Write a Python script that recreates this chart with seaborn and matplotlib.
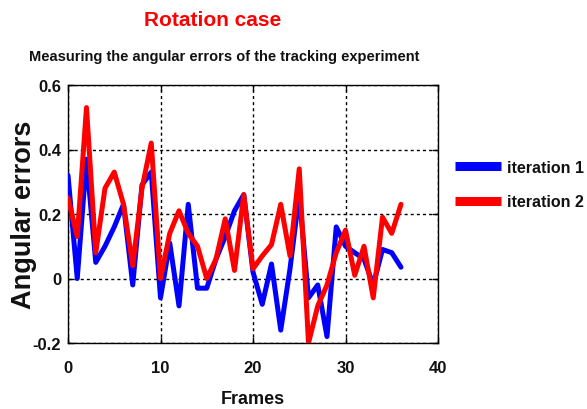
import matplotlib
matplotlib.use("Agg")
import matplotlib.pyplot as plt
from matplotlib import font_manager
from matplotlib.lines import Line2D
import seaborn as sns
import pandas as pd

# Angular error per frame for two tracking iterations
frames = list(range(37))
iteration_1 = [0.32, 0.00, 0.37, 0.05, 0.10, 0.16, 0.23, -0.02, 0.29, 0.33,
               -0.06, 0.11, -0.085, 0.23, -0.03, -0.03, 0.06, 0.13, 0.21, 0.26,
               0.02, -0.08, 0.045, -0.16, 0.03, 0.26, -0.06, -0.02, -0.18, 0.16,
               0.10, 0.08, 0.06, -0.02, 0.09, 0.08, 0.035]
iteration_2 = [0.25, 0.13, 0.53, 0.08, 0.28, 0.33, 0.23, 0.04, 0.28, 0.42,
               0.00, 0.14, 0.21, 0.14, 0.10, 0.00, 0.06, 0.185, 0.025, 0.26,
               0.03, 0.07, 0.105, 0.23, 0.07, 0.34, -0.20, -0.085, -0.02, 0.08,
               0.15, 0.01, 0.10, -0.06, 0.19, 0.14, 0.23]
series_names = ["iteration 1", "iteration 2"]
series_colors = ["#0000ff", "#ff0000"]
x_ticks = [0, 10, 20, 30, 40]
y_ticks = [-0.2, 0, 0.2, 0.4, 0.6]
y_tick_labels = ["-0.2", "0", "0.2", "0.4", "0.6"]

df = pd.DataFrame({
    "Frames": frames * 2,
    "error": iteration_1 + iteration_2,
    "series": [series_names[0]] * len(frames) + [series_names[1]] * len(frames),
})

sns.set_theme(style="white")
plt.rcParams["font.family"] = ["Liberation Sans", "DejaVu Sans"]

available = {f.name for f in font_manager.fontManager.ttflist}
narrow_family = ["Liberation Sans Narrow", "Liberation Sans"] if "Liberation Sans Narrow" in available else ["Liberation Sans"]

fig = plt.figure(figsize=(5.87, 4.10), dpi=100)
ax = fig.add_axes([68 / 587, 1 - 344 / 410, (438 - 68) / 587, (344 - 86) / 410])

sns.lineplot(data=df, x="Frames", y="error", hue="series",
             palette=dict(zip(series_names, series_colors)),
             linewidth=3.6, ax=ax, legend=False, zorder=3)

ax.set_xlim(0, 40)
ax.set_ylim(-0.2, 0.6)
ax.set_xticks(x_ticks)
ax.set_yticks(y_ticks)
ax.set_yticklabels(y_tick_labels)
ax.grid(True, color="black", linestyle=(0, (2.2, 2.2)), linewidth=1.0, zorder=1)
ax.set_axisbelow(True)
for spine in ax.spines.values():
    spine.set_color("black")
    spine.set_linewidth(1.0)
    spine.set_visible(True)
ax.tick_params(axis="both", direction="in", length=4, width=1, top=True, right=True,
               bottom=True, left=True, labelsize=12, colors="black")
ax.tick_params(axis="x", pad=12)
ax.tick_params(axis="y", pad=5)
for lab in ax.get_xticklabels() + ax.get_yticklabels():
    lab.set_fontweight("bold")
    lab.set_color("#111111")

ax.set_xlabel("Frames", fontsize=13, fontweight="bold", labelpad=11, color="#111111")
ax.set_ylabel("Angular errors", fontsize=19.5, fontweight="bold", color="#111111")
ax.yaxis.set_label_coords(-0.083, 0.5)

fig.text(213 / 587, 1 - 20 / 410, "Rotation case", color="#ff0000",
         fontsize=15, fontweight="bold", ha="center", va="center")
fig.text(224 / 587, 1 - 57 / 410,
         "Measuring the angular errors of the tracking experiment",
         color="#111111", fontsize=10.5, fontweight="bold", family=narrow_family,
         ha="center", va="center")

handles = [Line2D([], [], color=c, linewidth=6.5, solid_capstyle="butt")
           for c in series_colors]
fig.legend(handles, series_names, loc="upper left",
           bbox_to_anchor=(455 / 587, 1 - 161 / 410), frameon=False,
           prop={"size": 11.5, "weight": "bold"}, labelcolor="#111111",
           handlelength=2.9, handletextpad=0.35, labelspacing=1.2,
           borderpad=0, borderaxespad=0)

fig.savefig("out.png", dpi=100)
